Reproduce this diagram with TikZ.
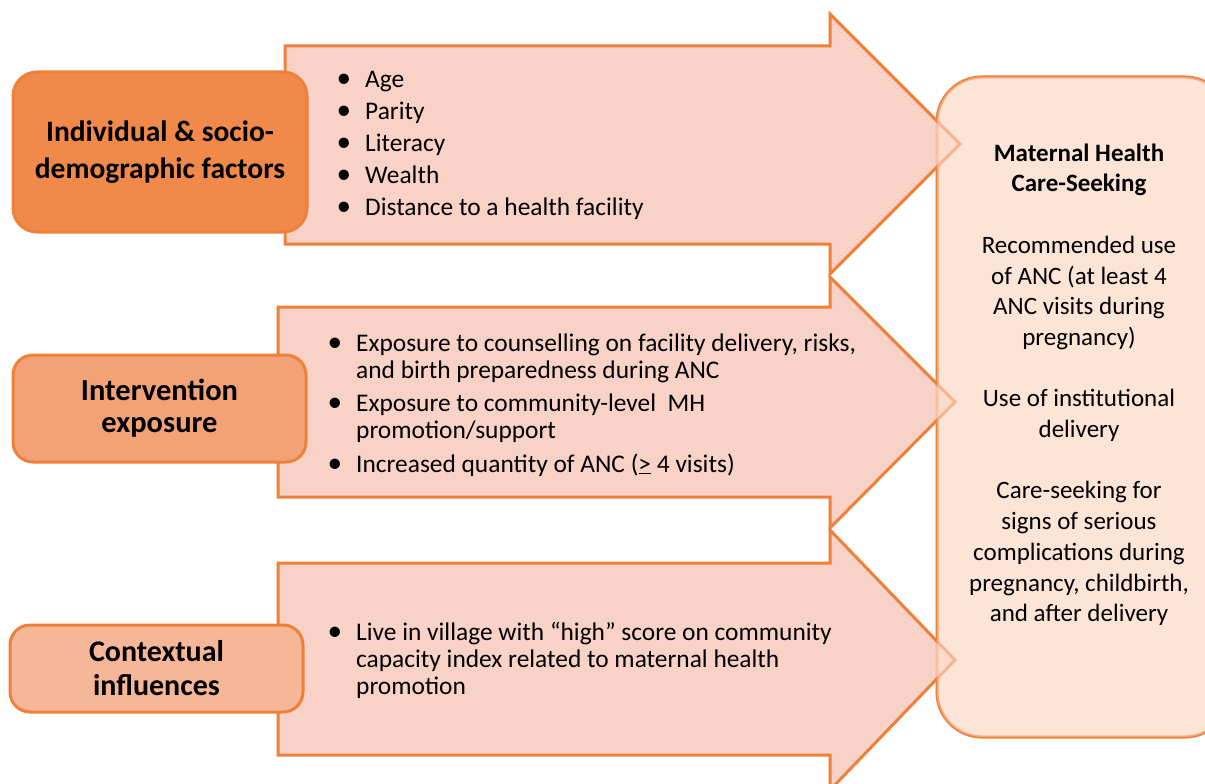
\documentclass[tikz,border=0pt]{standalone}
\usepackage{fontspec}
\setmainfont{Carlito}
\definecolor{edgeor}{RGB}{238,128,58}
\definecolor{arrowfill}{RGB}{248,210,198}
\definecolor{goalfill}{RGB}{252,228,214}
\definecolor{boxA}{RGB}{241,137,74}
\definecolor{boxB}{RGB}{243,162,120}
\definecolor{boxC}{RGB}{246,182,152}
\newcommand\bul{\makebox[0pt][r]{\scalebox{1.15}{\textbullet}\hspace{14pt}}}
\begin{document}
\begin{tikzpicture}[x=1pt,y=-1pt,
  blockarrow/.style={draw=edgeor,fill=arrowfill,line width=3pt,line join=miter},
  factorbox/.style={draw=edgeor,line width=3pt,rounded corners=24pt,inner sep=0pt,
    align=center,font=\bfseries\fontsize{30}{36}\selectfont},
  listtext/.style={anchor=north west,inner sep=0pt,align=left},
  goalbox/.style={draw=edgeor,fill=goalfill,line width=3pt,rounded corners=45pt,inner sep=0pt}]
\useasboundingbox (0,0) rectangle (1205,784);
\clip (0,0) rectangle (1205,784);
% outcome box (base)
\node[goalbox,minimum width=293pt,minimum height=660pt] (goal) at (1083.5,407) {};
% block arrows
\draw[blockarrow] (285,46) -- (830,46) -- (830,14) -- (960,144) -- (830,274) -- (830,244) -- (285,244) -- cycle;
\draw[blockarrow] (278,307) -- (830,307) -- (830,277) -- (955,402) -- (830,528) -- (830,497) -- (278,497) -- cycle;
\draw[blockarrow] (278,563) -- (830,563) -- (830,530) -- (955,660) -- (830,790) -- (830,755) -- (278,755) -- cycle;
% translucent overlay of outcome box over arrow tips
\node[goalbox,fill opacity=0.55,draw opacity=0.25,minimum width=293pt,minimum height=660pt] (goalover) at (1083.5,407) {};
% factor boxes
\node[factorbox,fill=boxA,minimum width=294pt,minimum height=160pt,font=\bfseries\fontsize{29.5}{37}\selectfont] (indiv) at (160,152) {Individual \& socio-\\demographic factors};
\node[factorbox,fill=boxB,minimum width=293pt,minimum height=107pt,rounded corners=20pt,font=\bfseries\fontsize{30.5}{32}\selectfont] (interv) at (159.5,408.5) {Intervention\\exposure};
\node[factorbox,fill=boxC,minimum width=293pt,minimum height=87pt,rounded corners=20pt,font=\bfseries\fontsize{30}{34}\selectfont] (context) at (156.5,668.5) {Contextual\\influences};
% lists
\node[listtext,font=\fontsize{25.4}{32}\selectfont] (list1) at (365,65.5) {\rule{0pt}{22pt}\bul Age\\ \bul Parity\\ \bul Literacy\\ \bul Wealth\\ \bul Distance to a health facility};
\node[listtext,font=\fontsize{25.4}{27}\selectfont] (list2) at (356,329) {\rule{0pt}{22pt}\bul Exposure to counselling on facility delivery, risks,\\ and birth preparedness during ANC\\[6.5pt] \bul Exposure to community-level~~MH\\ promotion/support\\[6.5pt] \bul Increased quantity of ANC (\underline{>}~4 visits)};
\node[listtext,font=\fontsize{25.4}{27}\selectfont] (list3) at (356,618) {\rule{0pt}{22pt}\bul Live in village with “high” score on community\\ capacity index related to maternal health\\ promotion};
% outcome text
\node[anchor=north,inner sep=0pt,align=center,font=\fontsize{25}{30.7}\selectfont] (goaltext) at (1079,139) {\rule{0pt}{22pt}\textbf{Maternal Health}\\ \textbf{Care-Seeking}\\[30.7pt] Recommended use\\ of ANC (at least 4\\ ANC visits during\\ pregnancy)\\[30.7pt] Use of institutional\\ delivery\\[30.7pt] Care-seeking for\\ signs of serious\\ complications during\\ pregnancy, childbirth,\\ and after delivery};
\end{tikzpicture}
\end{document}
